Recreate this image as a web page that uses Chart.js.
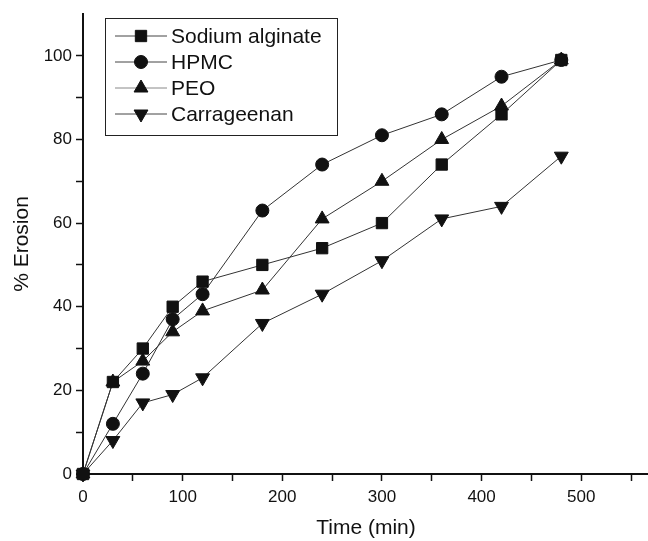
<!DOCTYPE html>
<html>
<head>
<meta charset="utf-8">
<script src="https://cdn.jsdelivr.net/npm/chart.js@4"></script>
<style>
  html, body { margin: 0; padding: 0; background: #fff; overflow: hidden; }
  #wrap { width: 648px; height: 541px; overflow: hidden; }
</style>
</head>
<body>
<div id="wrap"><canvas id="chart" width="658" height="541"></canvas></div>
<script>
var timeMin = [0, 30, 60, 90, 120, 180, 240, 300, 360, 420, 480];
var sodiumAlginate = [0, 22, 30, 40, 46, 50, 54, 60, 74, 86, 99];
var hpmc = [0, 12, 24, 37, 43, 63, 74, 81, 86, 95, 99];
var peo = [0, 22, 27, 34, 39, 44, 61, 70, 80, 88, 99];
var carrageenan = [0, 8, 17, 19, 23, 36, 43, 51, 61, 64, 76];
var seriesLabels = ['Sodium alginate', 'HPMC', 'PEO', 'Carrageenan'];
var xTicks = [0, 50, 100, 150, 200, 250, 300, 350, 400, 450, 500, 550];

var FONT = '"Liberation Sans", Arial, sans-serif';

function toPoints(values) {
    return values.map(function(v, i) { return { x: timeMin[i], y: v }; });
}

function makeSet(label, values, style, rotation, radius) {
    return {
        label: label,
        data: toPoints(values),
        borderColor: '#333',
        borderWidth: 1,
        backgroundColor: '#111',
        pointBackgroundColor: '#111',
        pointBorderColor: '#111',
        pointBorderWidth: 1,
        pointStyle: style,
        pointRotation: rotation,
        pointRadius: radius,
        tension: 0,
        clip: false
    };
}

// legend drawn inside the plot box, like the original figure
var boxLegend = {
    id: 'boxLegend',
    afterDraw: function(chart) {
        var ctx = chart.ctx;
        ctx.save();
        ctx.strokeStyle = '#222';
        ctx.lineWidth = 1;
        ctx.strokeRect(105.5, 18.5, 232, 117);
        var rowY = [36, 62, 88, 114];
        chart.data.datasets.forEach(function(ds, i) {
            var y = rowY[i];
            ctx.strokeStyle = i === 2 ? '#888' : '#444';
            ctx.lineWidth = 1;
            ctx.beginPath();
            ctx.moveTo(115, y); ctx.lineTo(167, y);
            ctx.stroke();
            ctx.fillStyle = '#111';
            ctx.strokeStyle = '#111';
            Chart.helpers.drawPoint(ctx, {
                pointStyle: ds.pointStyle,
                rotation: ds.pointRotation,
                radius: ds.pointRadius,
                borderWidth: 1
            }, 141, y);
            ctx.fillStyle = '#111';
            ctx.font = '21px ' + FONT;
            ctx.textBaseline = 'middle';
            ctx.textAlign = 'left';
            ctx.fillText(ds.label, 171, y + 1);
        });
        ctx.restore();
    }
};

new Chart(document.getElementById('chart'), {
    type: 'line',
    data: {
        datasets: [
            makeSet(seriesLabels[0], sodiumAlginate, 'rect', 0, 8),
            makeSet(seriesLabels[1], hpmc, 'circle', 0, 6.5),
            makeSet(seriesLabels[2], peo, 'triangle', 0, 8),
            makeSet(seriesLabels[3], carrageenan, 'triangle', 180, 8)
        ]
    },
    options: {
        responsive: false,
        animation: false,
        layout: { padding: { top: 14, right: 0, left: 10, bottom: 0 } },
        plugins: {
            legend: { display: false },
            tooltip: { enabled: false }
        },
        scales: {
            x: {
                type: 'linear',
                min: 0,
                max: 568,
                afterBuildTicks: function(scale) {
                    scale.ticks = xTicks.map(function(v) { return { value: v }; });
                },
                afterFit: function(scale) {
                    scale.height = 67;
                    scale.paddingLeft = 0;
                    scale.paddingRight = 0;
                },
                border: { display: true, color: '#111', width: 2 },
                grid: {
                    drawOnChartArea: false,
                    drawTicks: true,
                    tickLength: 7,
                    tickWidth: 1.5,
                    tickColor: '#111'
                },
                ticks: {
                    autoSkip: false,
                    maxRotation: 0,
                    padding: 6,
                    color: '#111',
                    font: { family: FONT, size: 17 },
                    callback: function(v) { return v % 100 === 0 ? String(v) : ''; }
                },
                title: {
                    display: true,
                    text: 'Time (min)',
                    color: '#111',
                    font: { family: FONT, size: 21 },
                    padding: { top: 2, bottom: 0 }
                }
            },
            y: {
                type: 'linear',
                min: 0,
                max: 110,
                afterFit: function(scale) {
                    scale.width = 73;
                    scale.paddingTop = 0;
                    scale.paddingBottom = 0;
                },
                border: { display: true, color: '#111', width: 2 },
                grid: {
                    drawOnChartArea: false,
                    drawTicks: true,
                    tickLength: 7,
                    tickWidth: 1.5,
                    tickColor: function(c) {
                        return c.tick && c.tick.value > 100 ? 'rgba(0,0,0,0)' : '#111';
                    }
                },
                ticks: {
                    stepSize: 10,
                    padding: 4,
                    color: '#111',
                    font: { family: FONT, size: 17 },
                    callback: function(v) { return (v % 20 === 0 && v <= 100) ? String(v) : ''; }
                },
                title: {
                    display: true,
                    text: '% Erosion',
                    color: '#111',
                    font: { family: FONT, size: 21 },
                    padding: { top: 0, bottom: 6 }
                }
            }
        }
    },
    plugins: [boxLegend]
});
</script>
</body>
</html>
